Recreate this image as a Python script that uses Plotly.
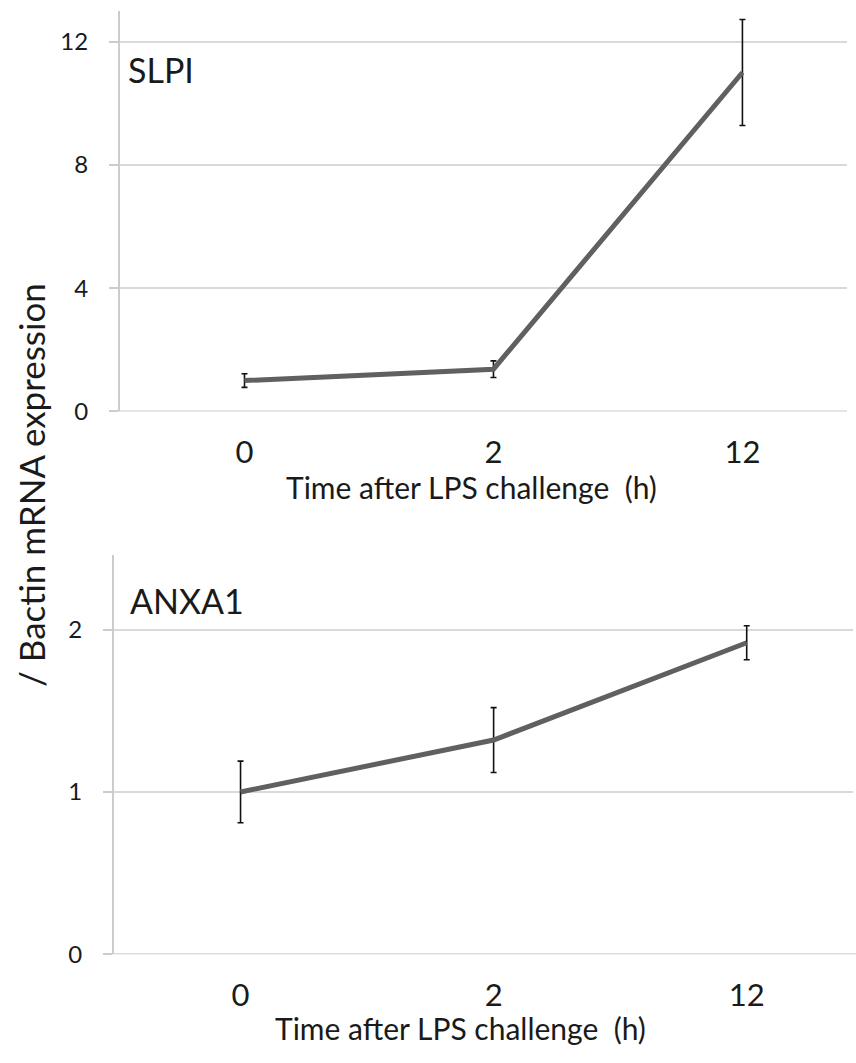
import plotly.graph_objects as go

# Time points after LPS challenge (h), shown as evenly spaced categories
time_labels = ["0", "2", "12"]

# SLPI relative expression (mean and error)
slpi_mean = [1.0, 1.37, 11.0]
slpi_err = [0.22, 0.27, 1.72]

# ANXA1 relative expression (mean and error)
anxa1_mean = [1.0, 1.32, 1.92]
anxa1_err = [0.19, 0.20, 0.105]

W, H = 856, 1063
FONT = "Lato"
LINE_COLOR = "#606060"
GRID = "#d9d9d9"
AXIS = "#cccccc"
TEXT = "#1a1a1a"


def px_x(p):
    return p / W


def px_y(p):
    return 1 - p / H


fig = go.Figure()

for mean, err, xa, ya in [
    (slpi_mean, slpi_err, "x", "y"),
    (anxa1_mean, anxa1_err, "x2", "y2"),
]:
    fig.add_trace(
        go.Scatter(
            x=time_labels,
            y=mean,
            mode="lines",
            line=dict(color=LINE_COLOR, width=5),
            error_y=dict(type="data", array=err, visible=True,
                         color="#111111", thickness=1.6, width=3),
            xaxis=xa,
            yaxis=ya,
            showlegend=False,
        )
    )

xaxis_common = dict(
    type="category",
    range=[-0.5, 2.42],
    showgrid=False,
    showline=False,
    zeroline=False,
    ticks="",
    tickfont=dict(family=FONT, size=31, color=TEXT),
    ticklabelstandoff=20,
)
yaxis_common = dict(
    showgrid=True,
    gridcolor=GRID,
    gridwidth=1.5,
    showline=True,
    linecolor=AXIS,
    linewidth=2,
    zeroline=False,
    ticks="outside",
    ticklen=9,
    tickcolor=AXIS,
    tickwidth=1.5,
    tickfont=dict(family=FONT, size=24, color=TEXT),
    ticklabelstandoff=16,
)

fig.update_layout(
    width=W,
    height=H,
    margin=dict(l=0, r=0, t=0, b=0),
    paper_bgcolor="white",
    plot_bgcolor="white",
    xaxis=dict(xaxis_common, domain=[px_x(120), px_x(847)], anchor="y"),
    yaxis=dict(yaxis_common, domain=[px_y(416.5), px_y(11)], anchor="x",
               range=[0, 13], tickvals=[0, 4, 8, 12]),
    xaxis2=dict(xaxis_common, domain=[px_x(114), px_x(853)], anchor="y2"),
    yaxis2=dict(yaxis_common, domain=[px_y(966), px_y(562)], anchor="x2",
                range=[0, 2.46], tickvals=[0, 1, 2]),
    shapes=[
        # horizontal axis lines, extending left past the vertical axis
        dict(type="line", xref="paper", yref="y", x0=px_x(111), x1=px_x(847),
             y0=0, y1=0, line=dict(color=AXIS, width=2)),
        dict(type="line", xref="paper", yref="y2", x0=px_x(104), x1=1,
             y0=0, y1=0, line=dict(color=AXIS, width=2)),
    ],
    annotations=[
        dict(text="SLPI", xref="paper", yref="paper", x=px_x(126), y=px_y(70),
             xanchor="left", yanchor="middle", showarrow=False,
             font=dict(family=FONT, size=34, color=TEXT)),
        dict(text="ANXA1", xref="paper", yref="paper", x=px_x(128), y=px_y(608),
             xanchor="left", yanchor="middle", showarrow=False,
             font=dict(family=FONT, size=34, color=TEXT)),
        dict(text="Time after LPS challenge  (h)", xref="paper", yref="paper",
             x=px_x(472), y=px_y(493), xanchor="center", yanchor="middle",
             showarrow=False, font=dict(family=FONT, size=30, color=TEXT)),
        dict(text="Time after LPS challenge  (h)", xref="paper", yref="paper",
             x=px_x(460), y=px_y(1041), xanchor="center", yanchor="middle",
             showarrow=False, font=dict(family=FONT, size=30, color=TEXT)),
        dict(text="/ Bactin mRNA expression", xref="paper", yref="paper",
             x=px_x(31), y=px_y(491), xanchor="center", yanchor="middle",
             textangle=-90, showarrow=False,
             font=dict(family=FONT, size=35, color=TEXT)),
    ],
)

fig.write_html("out.html")
